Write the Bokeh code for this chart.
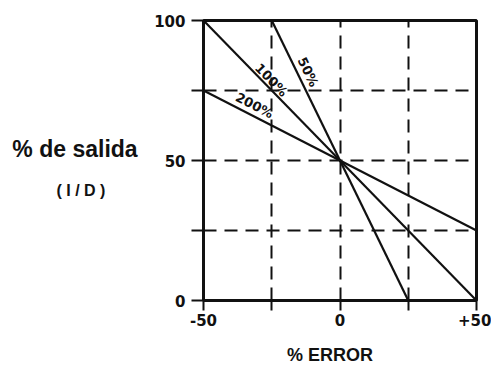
import math

from bokeh.core.properties import value
from bokeh.embed import file_html
from bokeh.layouts import row
from bokeh.models import ColumnDataSource, Div, FixedTicker, Range1d
from bokeh.plotting import figure
from bokeh.resources import INLINE

# Axis ticks and their printed labels
error_ticks = [-50, -25, 0, 25, 50]
error_tick_labels = ["-50", "", "0", "", "+50"]
output_ticks = [0, 25, 50, 75, 100]
output_tick_labels = ["0", "", "50", "", "100"]

# Proportional band lines: output (%) against error (%)
band_names = ["50%", "100%", "200%"]
band_err_start = [-25, -50, -50]
band_err_end = [25, 50, 50]
band_out_start = [100, 100, 75]
band_out_end = [0, 0, 25]

# Where each band label sits along its line (error value) and its gap from the line (px)
label_err_at = [-15, -27, -33]
label_gap_px = [10, 7, 10]

y_title = "% de salida"
y_subtitle = "( I / D )"
x_title = "% ERROR"

INK = "#111111"
W, H = 491, 367
SIDE_W = 140                      # width of the side panel holding the y title
LEFT, RIGHT, TOP, BOTTOM = 63, 15, 20, 67
PLOT_W = W - SIDE_W

p = figure(
    width=PLOT_W, height=H,
    x_range=Range1d(-50, 50), y_range=Range1d(0, 100),
    output_backend="svg", toolbar_location=None,
    min_border_left=LEFT, min_border_right=RIGHT,
    min_border_top=TOP, min_border_bottom=BOTTOM,
    background_fill_color="white", border_fill_color="white",
    margin=0,
)
p.outline_line_color = INK
p.outline_line_width = 3

# dashed reference grid at the quarter marks
p.xgrid.ticker = FixedTicker(ticks=[-25, 0, 25])
p.ygrid.ticker = FixedTicker(ticks=[25, 50, 75])
for g in (p.xgrid, p.ygrid):
    g.grid_line_color = INK
    g.grid_line_width = 2
    g.grid_line_dash = "13 8"

p.xaxis.ticker = FixedTicker(ticks=error_ticks)
p.xaxis.major_label_overrides = dict(zip(error_ticks, error_tick_labels))
p.yaxis.ticker = FixedTicker(ticks=output_ticks)
p.yaxis.major_label_overrides = dict(zip(output_ticks, output_tick_labels))
for ax in (p.xaxis, p.yaxis):
    ax.axis_line_color = None
    ax.major_tick_line_color = INK
    ax.major_tick_line_width = 2
    ax.major_tick_in = 0
    ax.minor_tick_line_color = None
    ax.major_label_text_font = "DejaVu Sans"
    ax.major_label_text_font_style = "bold"
    ax.major_label_text_font_size = "15px"
    ax.major_label_text_color = INK
p.xaxis.major_tick_out = 10
p.xaxis.major_label_standoff = 3
p.yaxis.major_tick_out = 12
p.yaxis.major_label_standoff = 6

# x axis title (trailing no-break spaces nudge the centred title a little left)
p.xaxis.axis_label = x_title + "\u00a0" * 4
p.xaxis.axis_label_standoff = 16
p.xaxis.axis_label_text_font = "Liberation Sans"
p.xaxis.axis_label_text_font_style = "bold"
p.xaxis.axis_label_text_font_size = "18px"
p.xaxis.axis_label_text_color = INK

# band lines
for xs, xe, ys, ye in zip(band_err_start, band_err_end, band_out_start, band_out_end):
    p.line([xs, xe], [ys, ye], line_color=INK, line_width=2.2)

# band labels, rotated along their lines
px_x = (PLOT_W - LEFT - RIGHT) / 100.0
px_y = (H - TOP - BOTTOM) / 100.0
lx, ly, ang, xo, yo = [], [], [], [], []
for xs, xe, ys, ye, at, gap in zip(band_err_start, band_err_end, band_out_start,
                                   band_out_end, label_err_at, label_gap_px):
    slope = (ye - ys) / (xe - xs)
    a = math.atan2((ye - ys) * px_y, (xe - xs) * px_x)
    lx.append(at)
    ly.append(ys + slope * (at - xs))
    ang.append(a)
    xo.append(-math.sin(a) * gap)
    yo.append(-math.cos(a) * gap)
src = ColumnDataSource(dict(x=lx, y=ly, text=band_names, angle=ang, xo=xo, yo=yo))
p.text(x="x", y="y", text="text", angle="angle", x_offset="xo", y_offset="yo",
       source=src, text_align="center", text_baseline="middle",
       text_font=value("DejaVu Sans"), text_font_style="bold",
       text_font_size="13px", text_color=INK)

# y title panel, set horizontally to the left of the plot
side = Div(
    width=SIDE_W, height=H, margin=0,
    text=(
        f'<div style="position:relative;width:{SIDE_W}px;height:{H}px;color:{INK};">'
        f'<div style="position:absolute;left:0;top:138px;width:150px;text-align:center;'
        f"font-family:'Liberation Sans';font-weight:bold;font-size:23px;line-height:23px;"
        f'white-space:nowrap;">{y_title}</div>'
        f'<div style="position:absolute;left:0;top:183px;width:162px;text-align:center;'
        f"font-family:'Liberation Sans';font-weight:bold;font-size:16px;line-height:16px;"
        f'white-space:nowrap;">{y_subtitle}</div>'
        f"</div>"
    ),
)

layout = row(side, p, spacing=0)
open("out.html", "w").write(file_html(layout, INLINE))
